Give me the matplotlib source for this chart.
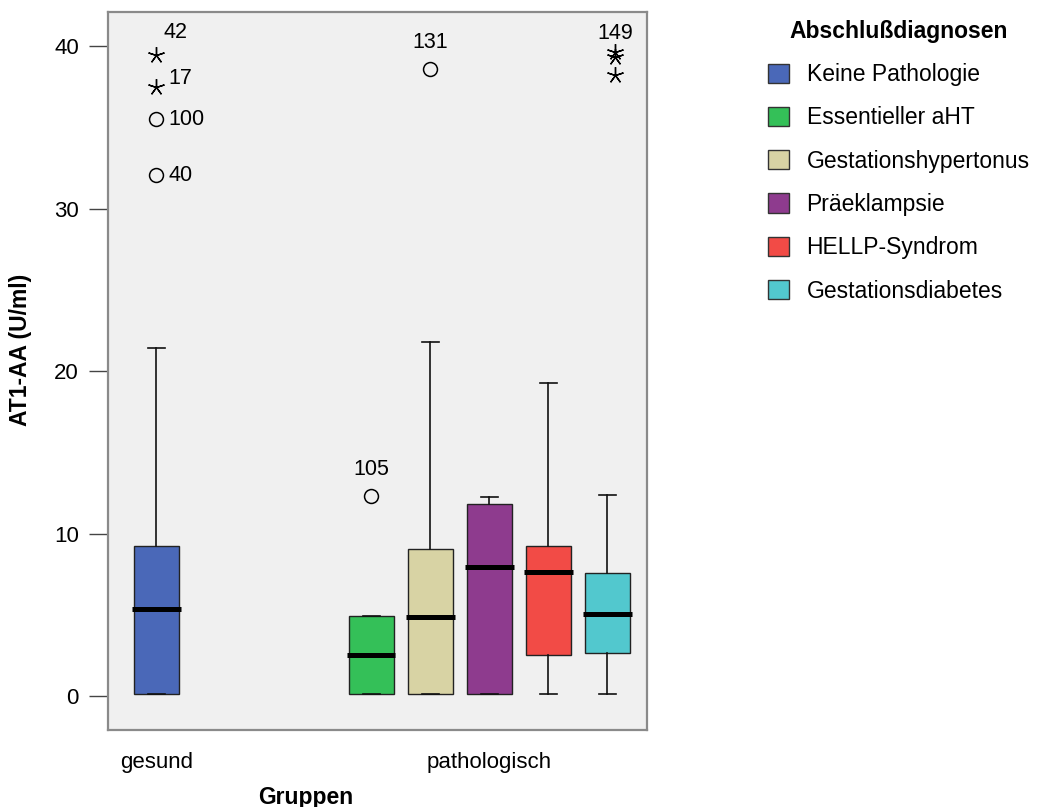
import matplotlib.pyplot as plt
from matplotlib.patches import Patch
import numpy as np

plt.rcParams['font.family'] = ['Liberation Sans', 'DejaVu Sans']

# Gruppen und Diagnosen
gruppen = ['gesund', 'pathologisch']
diagnosen = ['Keine Pathologie', 'Essentieller aHT', 'Gestationshypertonus',
             'Präeklampsie', 'HELLP-Syndrom', 'Gestationsdiabetes']
farben = ['#4A68B8', '#34C058', '#D8D3A4', '#8E3B8E', '#F24B46', '#52C8CE']
gruppe_je_box = [0, 1, 1, 1, 1, 1]

# Kennwerte der Boxplots (AT1-AA in U/ml)
whisker_unten = [0.15, 0.15, 0.15, 0.15, 0.15, 0.15]
quartil_1 = [0.15, 0.15, 0.15, 0.15, 2.54, 2.66]
median = [5.37, 2.54, 4.88, 7.96, 7.61, 5.06]
quartil_3 = [9.25, 4.94, 9.05, 11.83, 9.23, 7.57]
whisker_oben = [21.42, 4.94, 21.8, 12.23, 19.28, 12.39]

# Ausreisser (o) und Extremwerte (*) mit Fallnummer
ausreisser_box = [0, 0, 0, 0, 1, 2, 5, 5, 5]
ausreisser_wert = [39.45, 37.46, 35.5, 32.06, 12.33, 38.6, 39.6, 39.3, 38.2]
ausreisser_art = ['extrem', 'extrem', 'mild', 'mild', 'mild', 'mild',
                  'extrem', 'extrem', 'extrem']
ausreisser_fall = ['42', '17', '100', '40', '105', '131', '149', '', '']

# Lage der Boxen: gesund mittig, pathologisch um die eigene Mitte verteilt
gruppen_mitte = [0.0, 5.64]
positionen = []
n_path = gruppe_je_box.count(1)
k = 0
for g in gruppe_je_box:
    if g == 0:
        positionen.append(gruppen_mitte[0])
    else:
        positionen.append(gruppen_mitte[1] + (k - (n_path - 1) / 2))
        k += 1

fig = plt.figure(figsize=(10.37, 8.07), dpi=100)
ax = fig.add_axes([0.1041, 0.0954, 0.5198, 0.8897])
ax.set_facecolor('#F0F0F0')

stats = []
for i in range(len(diagnosen)):
    stats.append({'whislo': whisker_unten[i], 'q1': quartil_1[i], 'med': median[i],
                  'q3': quartil_3[i], 'whishi': whisker_oben[i], 'fliers': []})

bp = ax.bxp(stats, positions=positionen, widths=0.76, patch_artist=True,
            showfliers=False, capwidths=0.29,
            boxprops=dict(edgecolor='#222222', linewidth=1.0),
            whiskerprops=dict(color='#111111', linewidth=1.2),
            capprops=dict(color='#111111', linewidth=1.2),
            medianprops=dict(color='black', linewidth=3.6, solid_capstyle='butt'))
for patch, c in zip(bp['boxes'], farben):
    patch.set_facecolor(c)
for m in bp['medians']:
    x = m.get_xdata()
    m.set_xdata([x[0] - 0.03, x[1] + 0.03])

# Ausreisser zeichnen und beschriften
for b, w, art, fall in zip(ausreisser_box, ausreisser_wert, ausreisser_art, ausreisser_fall):
    x = positionen[b]
    # die Sterne der letzten Box stehen etwas rechts der Boxmitte
    if b == 5:
        x += 0.13
    if art == 'mild':
        ax.plot(x, w, marker='o', ms=10, mfc='none', mec='black', mew=1.1)
    else:
        ax.plot(x, w, marker=(5, 2, 0), ms=12, mec='black', mew=1.0)
    if not fall:
        continue
    if b == 0:
        if fall == '42':
            ax.annotate(fall, (x, w), xytext=(14, 16), textcoords='offset points',
                        fontsize=15.5, ha='center', va='center')
        else:
            dy = 6 if art == 'extrem' else 0
            ax.annotate(fall, (x, w), xytext=(9, dy), textcoords='offset points',
                        fontsize=15.5, ha='left', va='center')
    else:
        dy = 14 if b == 5 else 19
        ax.annotate(fall, (x, w), xytext=(0, dy), textcoords='offset points',
                    fontsize=15.5, ha='center', va='center')

ax.set_xlim(-0.82, 8.31)
ax.set_ylim(-2.09, 42.09)
ax.set_yticks([0, 10, 20, 30, 40])
ax.set_xticks(gruppen_mitte)
ax.set_xticklabels(gruppen)
ax.tick_params(axis='y', length=14, width=1, color='#444444', pad=7, labelsize=16)
ax.tick_params(axis='x', length=0, pad=16, labelsize=16)
for s in ax.spines.values():
    s.set_color('#8A8A8A')
    s.set_linewidth(1.6)

ax.set_ylabel('AT1-AA (U/ml)', fontsize=16.5, fontweight='bold')
ax.yaxis.set_label_coords(-0.14, 0.529)
ax.set_xlabel('Gruppen', fontsize=16.5, fontweight='bold')
ax.xaxis.set_label_coords(0.367, -0.078)

handles = [Patch(facecolor=c, edgecolor='#333333', linewidth=1.0) for c in farben]
leg = fig.legend(handles, diagnosen, loc='upper left', bbox_to_anchor=(0.7205, 1.001),
                 frameon=False, fontsize=16.5, title='Abschlußdiagnosen',
                 title_fontproperties={'weight': 'bold', 'size': 16.5},
                 handlelength=0.91, handleheight=0.91, handletextpad=0.78,
                 labelspacing=0.885)

fig.savefig('out.png', dpi=100)
